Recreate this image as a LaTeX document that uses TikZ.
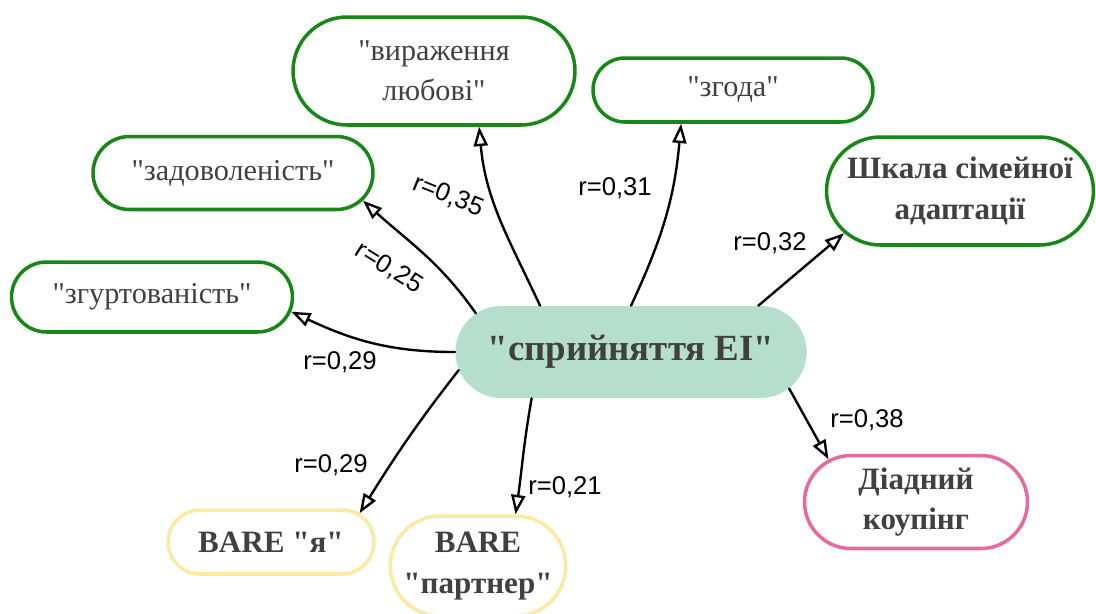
\documentclass[tikz,border=0pt]{standalone}
\usepackage{fontspec}
\setmainfont{Liberation Serif}[Ligatures=TeXOff]
\newfontfamily\rfont{Liberation Sans}
\usetikzlibrary{arrows.meta,shapes.misc}
\definecolor{boxgreen}{RGB}{24,135,24}
\definecolor{corefill}{RGB}{181,223,204}
\definecolor{boxpink}{RGB}{232,105,158}
\definecolor{boxyellow}{RGB}{251,233,166}
\definecolor{txtgray}{RGB}{64,64,64}
\begin{document}
\begin{tikzpicture}[x=0.02cm, y=-0.02cm, line join=round, line cap=round,
	gbox/.style={rounded rectangle, draw=boxgreen, line width=2pt, text=txtgray, align=center, inner sep=0pt, font=\fontsize{17.2}{22.5}\selectfont},
	bbox/.style={gbox, font=\fontsize{17.7}{23}\selectfont\bfseries},
	link/.style={-{Triangle[open,length=11pt,width=8pt]}, line width=1.35pt},
	rlab/.style={font=\rfont\fontsize{14.6}{17}\selectfont}]
	\useasboundingbox (0,0) rectangle (1096,613);
	% centre
	\node[rounded rectangle, fill=corefill, minimum width=7.26cm, minimum height=1.84cm, text=txtgray, font=\fontsize{21}{25}\selectfont\bfseries] (ei) at (631,352) {"сприйняття ЕІ"};
	% scales
	\node[gbox, minimum width=5.64cm, minimum height=2.16cm] (love) at (434,71) {"вираження\\любові"};
	\node[gbox, minimum width=5.6cm, minimum height=1.28cm] (agree) at (733,90) {"згода"};
	\node[gbox, minimum width=5.6cm, minimum height=1.46cm] (satis) at (233,173) {"задоволеність"};
	\node[gbox, minimum width=5.62cm, minimum height=1.4cm] (cohes) at (152,297) {"згуртованість"};
	\node[bbox, minimum width=5.34cm, minimum height=2.16cm] (fam) at (960,191) {Шкала сімейної\\адаптації};
	\node[bbox, draw=boxpink, minimum width=4.46cm, minimum height=1.86cm] (dyad) at (916,502) {Діадний\\коупінг};
	\node[bbox, draw=boxyellow, minimum width=4.12cm, minimum height=1.28cm] (bme) at (271,542) {BARE "я"};
	\node[bbox, draw=boxyellow, minimum width=3.32cm, minimum height=2cm] (bpart) at (478,566) {BARE\\"партнер"};
	% links
	\draw[link] (ei.153) to[out=115, in=-85] (love.-51);
	\draw[link] (ei.90) to[out=65, in=-95] (agree.213);
	\draw[link] (ei.166) to[out=125, in=-42] (satis.-12);
	\draw[link] (ei.180) to[out=180, in=-25] (cohes.-6);
	\draw[link] (ei.20) -- (fam.200);
	\draw[link] (ei.-13) -- (dyad.154);
	\draw[link] (ei.186) to[out=-128, in=58] (bme.18);
	\draw[link] (ei.205) to[out=-100, in=82] (bpart.54);
	% labels
	\node[rlab, rotate=-22] (l1) at (448,196) {r=0,35};
	\node[rlab] (l2) at (615,188) {r=0,31};
	\node[rlab, rotate=-32] (l3) at (389,268) {r=0,25};
	\node[rlab] (l4) at (340,362) {r=0,29};
	\node[rlab] (l5) at (770,243) {r=0,32};
	\node[rlab] (l6) at (867,420) {r=0,38};
	\node[rlab] (l7) at (331,465) {r=0,29};
	\node[rlab] (l8) at (565,487) {r=0,21};
\end{tikzpicture}
\end{document}
